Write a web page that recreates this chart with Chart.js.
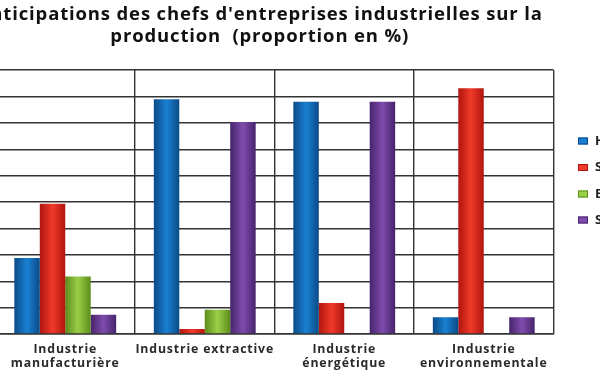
<!DOCTYPE html>
<html lang="fr">
<head>
<meta charset="utf-8">
<title>Anticipations production</title>
<script src="https://cdn.jsdelivr.net/npm/chart.js@4.4.1/dist/chart.umd.min.js"></script>
<style>
  body { margin: 0; background: #fff; overflow: hidden; width: 600px; height: 372px; position: relative; }
  #graphique { position: absolute; left: -34px; top: 0; }
</style>
</head>
<body>
<canvas id="graphique" width="734" height="372"></canvas>
<script>
const categories = [["Industrie", "manufacturière"], "Industrie extractive", ["Industrie", "énergétique"], ["Industrie", "environnementale"]]
const hausse = [28.8, 88.9, 88.0, 6.3]
const stabilite = [49.3, 1.9, 11.7, 93.1]
const baisse = [21.8, 9.2, 0, 0]
const sansReponse = [7.3, 80.3, 88.0, 6.3]
const ticksY = [0, 10, 20, 30, 40, 50, 60, 70, 80, 90, 100]
const legendes = ["Hausse", "Stabilité", "Baisse", "Sans réponse"]

const largeurGroupe = 0.73

// degrade horizontal pour imiter les barres "cylindre" d'Excel
function degrade(fonce, clair) {
  return (ctx) => {
    const chart = ctx.chart
    const x = chart.scales.x
    if (ctx.type !== 'data' || !x || !chart.chartArea) return clair
    const w = (x.getPixelForValue(1) - x.getPixelForValue(0)) * largeurGroupe / 4
    const centre = x.getPixelForValue(ctx.dataIndex) + (ctx.datasetIndex - 1.5) * w
    const g = chart.ctx.createLinearGradient(centre - w / 2, 0, centre + w / 2, 0)
    g.addColorStop(0, fonce)
    g.addColorStop(0.5, clair)
    g.addColorStop(1, fonce)
    return g
  }
}

const couleurs = [
  ['#0a4a86', '#1a80d2'],
  ['#b0150e', '#f03a2a'],
  ['#5c8c1c', '#9acf48'],
  ['#46246b', '#7f4cae']
]

// le texte de l'original est large : un peu d'espacement pour titre et etiquettes
const espacement = {
  id: 'espacement',
  beforeDraw(chart) { chart.ctx.letterSpacing = '0.85px' },
  beforeDatasetsDraw(chart) { chart.ctx.letterSpacing = '0px' }
}

const legendeDroite = {
  id: 'legendeDroite',
  afterDraw(chart) {
    const c = chart.ctx
    const yCentres = [141, 167.5, 194, 220]
    c.save()
    c.font = 'bold 13px "Open Sans"'
    c.textBaseline = 'middle'
    chart.data.datasets.forEach((ds, i) => {
      const y = yCentres[i]
      const bx = 612
      c.fillStyle = couleurs[i][1]
      c.fillRect(bx, y - 3.5, 10, 7)
      c.strokeStyle = couleurs[i][0]
      c.lineWidth = 1
      c.strokeRect(bx + 0.5, y - 3, 9, 6)
      c.fillStyle = '#1e1e1e'
      c.fillText(ds.label, 629, y)
    })
    c.restore()
  }
}

const jeux = [hausse, stabilite, baisse, sansReponse].map((valeurs, i) => ({
  label: legendes[i],
  data: valeurs,
  backgroundColor: degrade(couleurs[i][0], couleurs[i][1]),
  borderWidth: 0,
  categoryPercentage: largeurGroupe,
  barPercentage: 1
}))

new Chart(document.getElementById('graphique'), {
  type: 'bar',
  data: { labels: categories, datasets: jeux },
  options: {
    responsive: false,
    animation: false,
    layout: { padding: { left: 0, right: 146.5, top: 0, bottom: 0 } },
    plugins: {
      legend: { display: false },
      tooltip: { enabled: false },
      title: {
        display: true,
        text: ["Anticipations des chefs d'entreprises industrielles sur la", "production  (proportion en %)"],
        color: '#111',
        font: { family: 'Open Sans', size: 18.5, weight: 'bold', lineHeight: 1.19 },
        padding: { top: 4, bottom: 22 }
      }
    },
    scales: {
      x: {
        grid: { color: '#333', lineWidth: 1.4, drawTicks: false, offset: true },
        border: { color: '#333', width: 1.4 },
        ticks: {
          color: '#2a2a2a',
          padding: 8.5,
          maxRotation: 0,
          autoSkip: false,
          font: { family: 'Open Sans', size: 12.3, weight: 'bold', lineHeight: 1.12 }
        },
        afterFit: (s) => { s.height = 38 }
      },
      y: {
        min: ticksY[0],
        max: ticksY[ticksY.length - 1],
        grid: { color: '#333', lineWidth: 1.4, drawTicks: false },
        border: { color: '#333', width: 1.4 },
        ticks: { stepSize: 10, color: '#333', font: { family: 'Open Sans', size: 12, weight: 'bold' } },
        afterFit: (s) => { s.width = 29.5 }
      }
    }
  },
  plugins: [espacement, legendeDroite]
})
</script>
</body>
</html>
